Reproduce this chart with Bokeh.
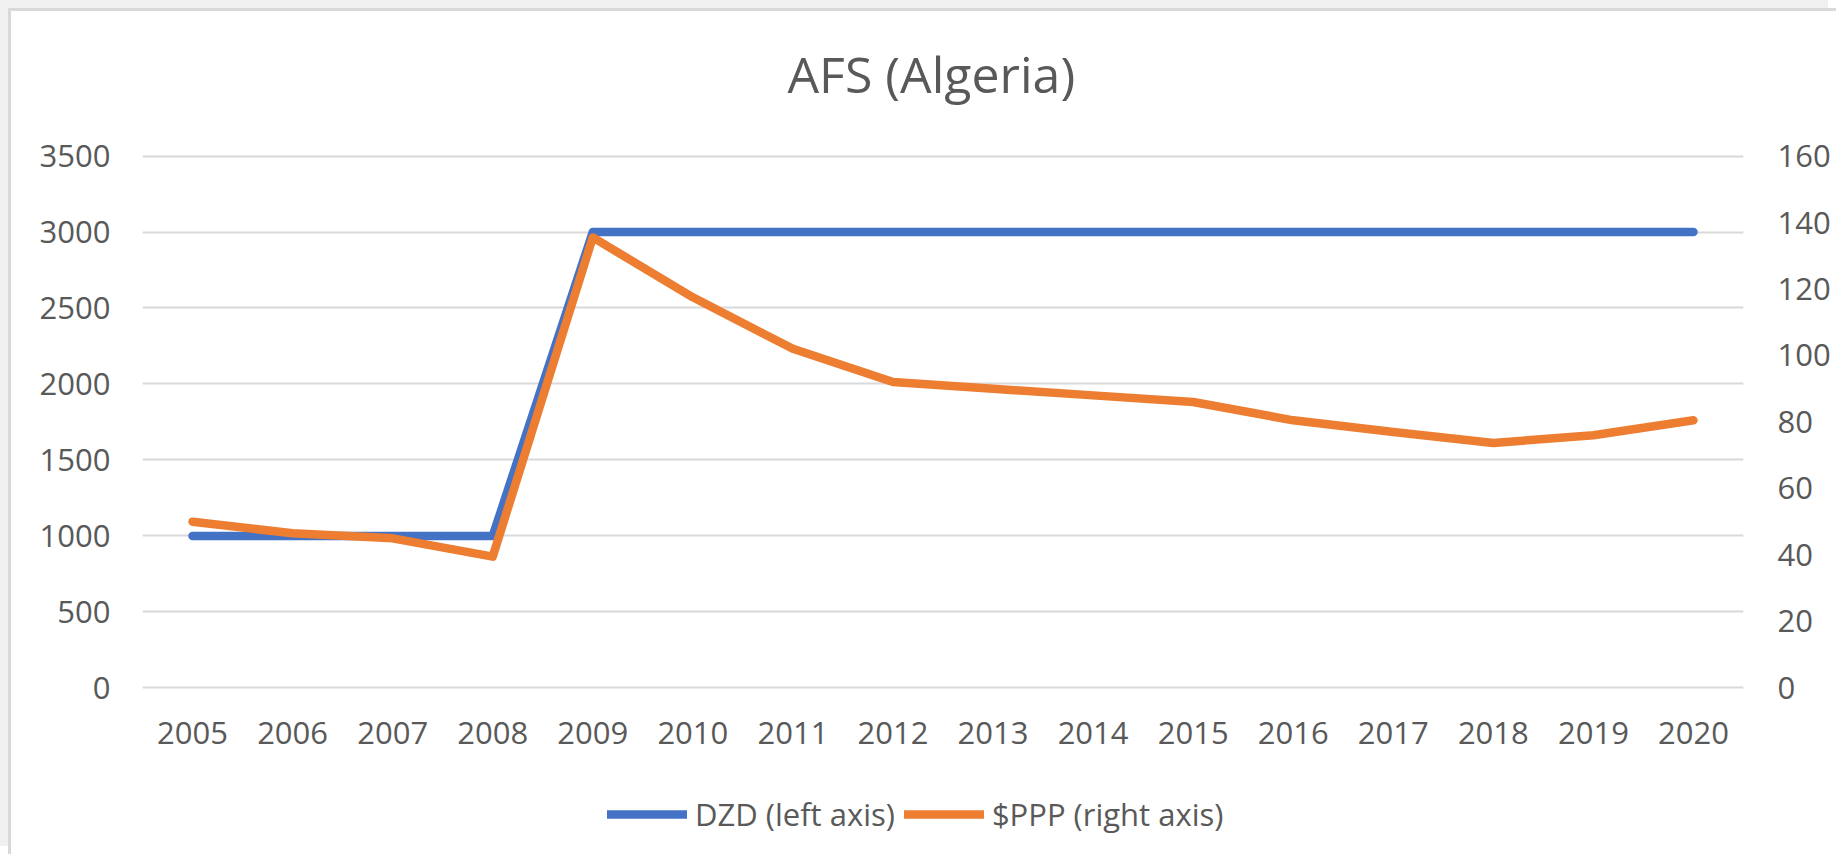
from bokeh.plotting import figure
from bokeh.models import (FactorRange, Range1d, LinearAxis, FixedTicker, Legend, LegendItem, Title)
from bokeh.embed import file_html
from bokeh.resources import INLINE

years = ["2005", "2006", "2007", "2008", "2009", "2010", "2011", "2012",
         "2013", "2014", "2015", "2016", "2017", "2018", "2019", "2020"]
dzd = [1000, 1000, 1000, 1000, 3000, 3000, 3000, 3000,
       3000, 3000, 3000, 3000, 3000, 3000, 3000, 3000]
ppp = [50, 46.5, 45, 39.5, 135.5, 117.5, 102, 92,
       90, 88, 86, 80.5, 77, 73.7, 76, 80.5]
left_ticks = [0, 500, 1000, 1500, 2000, 2500, 3000, 3500]
right_ticks = [0, 20, 40, 60, 80, 100, 120, 140, 160]

FONT = "Open Sans"
GREY = "#595959"
BLUE = "#4472C4"
ORANGE = "#ED7D31"

# frame extends below the zero line to make room for the legend under the axis labels
PX_PER_UNIT = 531.9 / 3500
FRAME_H = 700
Y_TOP = 3510
Y_BOTTOM = Y_TOP - FRAME_H / PX_PER_UNIT

p = figure(frame_width=1601, frame_height=FRAME_H, x_range=FactorRange(*years),
           y_range=Range1d(Y_BOTTOM, Y_TOP), output_backend="svg",
           toolbar_location=None, title="AFS (Algeria)",
           min_border_left=131, min_border_right=93,
           min_border_top=143, min_border_bottom=0)
p.styles = {"margin-left": "8px", "margin-top": "8px",
            "border-left": "3px solid #d9d9d9", "border-top": "3px solid #d9d9d9",
            "box-shadow": "-8px -8px 0 0 #f0f0f0"}
p.extra_y_ranges = {"right": Range1d(Y_BOTTOM / 21.875, Y_TOP / 21.875)}

p.outline_line_color = None
p.background_fill_color = "white"
p.border_fill_color = "white"

p.title.align = "left"
p.title.offset = 645
p.title.text_font = FONT
p.title.text_font_size = "50px"
p.title.text_font_style = "normal"
p.title.text_color = GREY
p.title.standoff = 0

# blank spacer between frame and title
p.add_layout(Title(text=" ", text_font_size="10px", standoff=34), "above")

def style_axis(ax, standoff):
    ax.axis_line_color = None
    ax.major_tick_line_color = None
    ax.minor_tick_line_color = None
    ax.major_tick_out = 0
    ax.major_tick_in = 0
    ax.major_label_text_font = FONT
    ax.major_label_text_font_size = "31px"
    ax.major_label_text_color = GREY
    ax.major_label_standoff = standoff

p.yaxis.ticker = FixedTicker(ticks=left_ticks)
style_axis(p.yaxis[0], 32)
style_axis(p.xaxis[0], 34)
p.xaxis.fixed_location = 0

raxis = LinearAxis(y_range_name="right", ticker=FixedTicker(ticks=right_ticks))
style_axis(raxis, 34)
p.add_layout(raxis, "right")

p.xgrid.grid_line_color = None
p.ygrid.grid_line_color = "#d9d9d9"
p.ygrid.grid_line_width = 2
p.ygrid.ticker = FixedTicker(ticks=left_ticks)

r1 = p.line(years, dzd, line_color=BLUE, line_width=8.5, line_cap="round", line_join="round")
r2 = p.line(years, ppp, y_range_name="right", line_color=ORANGE, line_width=8.5,
            line_cap="round", line_join="round")

legend = Legend(items=[LegendItem(label="DZD (left axis)", renderers=[r1]),
                       LegendItem(label="$PPP (right axis)", renderers=[r2])],
                orientation="horizontal", location=(465, 18))
legend.label_text_font = FONT
legend.label_text_font_size = "31px"
legend.label_text_color = GREY
legend.glyph_width = 80
legend.glyph_height = 44
legend.label_height = 44
legend.label_standoff = 8
legend.spacing = 9
legend.padding = 0
legend.margin = 0
legend.border_line_color = None
legend.background_fill_alpha = 0
p.add_layout(legend, "center")

open("out.html", "w").write(file_html(p, INLINE))
